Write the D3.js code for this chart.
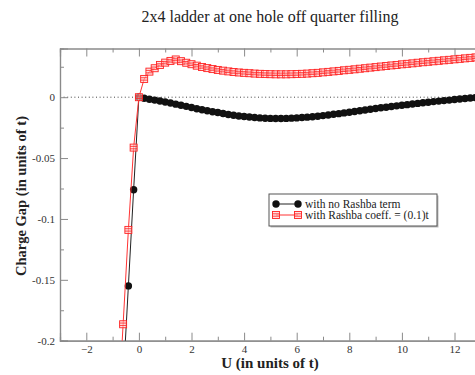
<!DOCTYPE html>
<html>
<head>
<meta charset="utf-8">
<script src="https://cdn.jsdelivr.net/npm/d3@7"></script>
<style>
  body { margin: 0; background: #fff; }
  svg { display: block; font-family: "Liberation Serif", "Times New Roman", serif; }
</style>
</head>
<body>
<svg id="chart" width="475" height="375"></svg>
<script>
// U values (units of t) and charge gaps
const uBlack = [-0.6, -0.4, -0.2, 0.0, 0.2, 0.4, 0.6, 0.8, 1.0, 1.2, 1.4, 1.6, 1.8, 2.0,
  2.2, 2.4, 2.6, 2.8, 3.0, 3.2, 3.4, 3.6, 3.8, 4.0, 4.2, 4.4, 4.6, 4.8, 5.0, 5.2, 5.4,
  5.6, 5.8, 6.0, 6.2, 6.4, 6.6, 6.8, 7.0, 7.2, 7.4, 7.6, 7.8, 8.0, 8.2, 8.4, 8.6, 8.8,
  9.0, 9.2, 9.4, 9.6, 9.8, 10.0, 10.2, 10.4, 10.6, 10.8, 11.0, 11.2, 11.4, 11.6, 11.8,
  12.0, 12.2, 12.4, 12.6, 12.8, 13.0];
const gapNoRashba = [-0.234, -0.155, -0.076, 0.0, -0.0009, -0.0017, -0.0024, -0.0031,
  -0.0039, -0.0048, -0.0057, -0.0066, -0.0075, -0.0085, -0.0095, -0.0103, -0.0111,
  -0.0119, -0.0126, -0.0134, -0.0142, -0.0148, -0.0154, -0.0159, -0.0163, -0.0167,
  -0.0170, -0.0173, -0.0174, -0.0175, -0.0175, -0.0174, -0.0172, -0.0170, -0.0167,
  -0.0164, -0.0160, -0.0156, -0.0151, -0.0146, -0.0140, -0.0135, -0.0129, -0.0123,
  -0.0117, -0.0111, -0.0105, -0.0099, -0.0093, -0.0087, -0.0082, -0.0077, -0.0071,
  -0.0066, -0.0061, -0.0056, -0.0051, -0.0046, -0.0041, -0.0036, -0.0032, -0.0028,
  -0.0024, -0.0019, -0.0015, -0.0011, -0.0007, -0.0004, -0.0001];

const uRed = [-0.8, -0.6, -0.4, -0.2, 0.0, 0.2, 0.4, 0.6, 0.8, 1.0, 1.2, 1.4, 1.6, 1.8,
  2.0, 2.2, 2.4, 2.6, 2.8, 3.0, 3.2, 3.4, 3.6, 3.8, 4.0, 4.2, 4.4, 4.6, 4.8, 5.0, 5.2,
  5.4, 5.6, 5.8, 6.0, 6.2, 6.4, 6.6, 6.8, 7.0, 7.2, 7.4, 7.6, 7.8, 8.0, 8.2, 8.4, 8.6,
  8.8, 9.0, 9.2, 9.4, 9.6, 9.8, 10.0, 10.2, 10.4, 10.6, 10.8, 11.0, 11.2, 11.4, 11.6,
  11.8, 12.0, 12.2, 12.4, 12.6, 12.8, 13.0];
const gapRashba = [-0.264, -0.1865, -0.109, -0.0414, 0.0, 0.0150, 0.0210, 0.0238,
  0.0265, 0.0284, 0.0298, 0.0310, 0.0296, 0.0283, 0.0271, 0.0259, 0.0248, 0.0239,
  0.0231, 0.0224, 0.0218, 0.0212, 0.0207, 0.0203, 0.0200, 0.0197, 0.0194, 0.0192,
  0.0190, 0.0189, 0.0188, 0.0188, 0.0188, 0.0189, 0.0190, 0.0192, 0.0194, 0.0197,
  0.0200, 0.0204, 0.0208, 0.0212, 0.0216, 0.0221, 0.0225, 0.0229, 0.0234, 0.0238,
  0.0243, 0.0247, 0.0252, 0.0256, 0.0261, 0.0265, 0.0270, 0.0274, 0.0278, 0.0283,
  0.0287, 0.0291, 0.0295, 0.0299, 0.0303, 0.0307, 0.0311, 0.0315, 0.0319, 0.0323,
  0.0327, 0.0331];

const xMajor = [-2, 0, 2, 4, 6, 8, 10, 12];
const xMinor = [-3, -1, 1, 3, 5, 7, 9, 11];
const yMajor = [-0.2, -0.15, -0.1, -0.05, 0];
const yMinor = [-0.175, -0.125, -0.075, -0.025, 0.025];
const legendLabels = ["with no Rashba term", "with Rashba coeff. = (0.1)t"];

const svg = d3.select("#chart");
const plotLeft = 60, plotTop = 48.5, plotBottom = 340.7, plotRight = 533.4;

const x = d3.scaleLinear().domain([-3, 15]).range([plotLeft, plotRight]);
const y = d3.scaleLinear().domain([-0.2, 0.04]).range([plotBottom, plotTop]);

const axisColor = "#8a8a8a";
const textColor = "#333";

// title
svg.append("text")
  .attr("x", 270).attr("y", 22)
  .attr("text-anchor", "middle")
  .style("font-size", "16px")
  .attr("fill", "#222")
  .text("2x4 ladder at one hole off quarter filling");

svg.append("clipPath").attr("id", "plot-clip")
  .append("rect")
  .attr("x", plotLeft).attr("y", plotTop)
  .attr("width", plotRight - plotLeft).attr("height", plotBottom - plotTop);

// zero reference line
svg.append("line")
  .attr("x1", plotLeft).attr("x2", plotRight)
  .attr("y1", y(0)).attr("y2", y(0))
  .attr("stroke", "#444")
  .attr("stroke-width", 1)
  .attr("stroke-dasharray", "1,2.6");

// axes with inward ticks
const axes = svg.append("g");
axes.append("g").attr("transform", `translate(0,${plotBottom})`)
  .call(d3.axisBottom(x).tickValues(xMajor).tickSize(-8).tickPadding(5).tickFormat(d3.format("d")));
axes.append("g").attr("transform", `translate(0,${plotBottom})`)
  .call(d3.axisBottom(x).tickValues(xMinor).tickSize(-4).tickFormat(""));
axes.append("g").attr("transform", `translate(0,${plotTop})`)
  .call(d3.axisTop(x).tickValues(xMajor).tickSize(-8).tickFormat(""));
axes.append("g").attr("transform", `translate(0,${plotTop})`)
  .call(d3.axisTop(x).tickValues(xMinor).tickSize(-4).tickFormat(""));
axes.append("g").attr("transform", `translate(${plotLeft},0)`)
  .call(d3.axisLeft(y).tickValues(yMajor).tickSize(-8).tickPadding(5)
    .tickFormat(d => d === 0 ? "0" : String(+d.toFixed(2))));
axes.append("g").attr("transform", `translate(${plotLeft},0)`)
  .call(d3.axisLeft(y).tickValues(yMinor).tickSize(-4).tickFormat(""));

axes.selectAll("g")
  .attr("font-family", "'Liberation Serif', 'Times New Roman', serif")
  .attr("font-size", 11);
axes.selectAll(".domain").attr("stroke", axisColor).attr("stroke-width", 1.2);
axes.selectAll(".tick line").attr("stroke", axisColor);
axes.selectAll(".tick text").attr("fill", textColor);

// data series
const plot = svg.append("g").attr("clip-path", "url(#plot-clip)");
const black = uBlack.map((u, i) => [u, gapNoRashba[i]]);
const red = uRed.map((u, i) => [u, gapRashba[i]]);
const line = d3.line().x(d => x(d[0])).y(d => y(d[1]));

plot.append("path").datum(black)
  .attr("d", line).attr("fill", "none").attr("stroke", "#222").attr("stroke-width", 1);
plot.selectAll("circle.nr").data(black).enter().append("circle")
  .attr("class", "nr")
  .attr("cx", d => x(d[0])).attr("cy", d => y(d[1]))
  .attr("r", 3.7).attr("fill", "#111");

plot.append("path").datum(red)
  .attr("d", line).attr("fill", "none").attr("stroke", "#f33").attr("stroke-width", 1);

function drawSquare(g, cx, cy) {
  const s = 7;
  g.append("rect")
    .attr("x", cx - s / 2).attr("y", cy - s / 2)
    .attr("width", s).attr("height", s)
    .attr("fill", "#ffd0d0").attr("fill-opacity", 0.6)
    .attr("stroke", "#f22").attr("stroke-width", 0.9);
  g.append("path")
    .attr("d", `M${cx - s / 2},${cy - 1.2}H${cx + s / 2}M${cx - s / 2},${cy + 1.2}H${cx + s / 2}`)
    .attr("stroke", "#f22").attr("stroke-width", 0.8);
}
const sq = plot.append("g");
red.forEach(d => drawSquare(sq, x(d[0]), y(d[1])));

// legend
const lg = svg.append("g").attr("transform", "translate(269,194)");
lg.append("rect")
  .attr("x", 1.5).attr("y", 1.5).attr("width", 168).attr("height", 32)
  .attr("fill", "#bbb");
lg.append("rect")
  .attr("width", 168).attr("height", 32)
  .attr("fill", "#fff").attr("stroke", "#555").attr("stroke-width", 1);

lg.append("line").attr("x1", 7).attr("x2", 29).attr("y1", 10).attr("y2", 10)
  .attr("stroke", "#222");
[7, 29].forEach(cx => lg.append("circle").attr("cx", cx).attr("cy", 10).attr("r", 3.7).attr("fill", "#111"));
lg.append("line").attr("x1", 7).attr("x2", 29).attr("y1", 21).attr("y2", 21)
  .attr("stroke", "#f33");
[7, 29].forEach(cx => drawSquare(lg, cx, 21));

lg.selectAll("text.lab").data(legendLabels).enter().append("text")
  .attr("class", "lab")
  .attr("x", 36).attr("y", (d, i) => 14 + i * 11)
  .attr("fill", "#222")
  .style("font-size", "11.5px")
  .text(d => d);

// axis titles
svg.append("text")
  .attr("x", 270).attr("y", 368)
  .attr("text-anchor", "middle")
  .style("font-size", "15px").style("font-weight", "bold")
  .attr("fill", "#222")
  .text("U (in units of t)");

svg.append("text")
  .attr("transform", "translate(26,196) rotate(-90)")
  .attr("text-anchor", "middle")
  .style("font-size", "14.5px").style("font-weight", "bold")
  .attr("fill", "#222")
  .text("Charge Gap (in units of t)");
</script>
</body>
</html>
